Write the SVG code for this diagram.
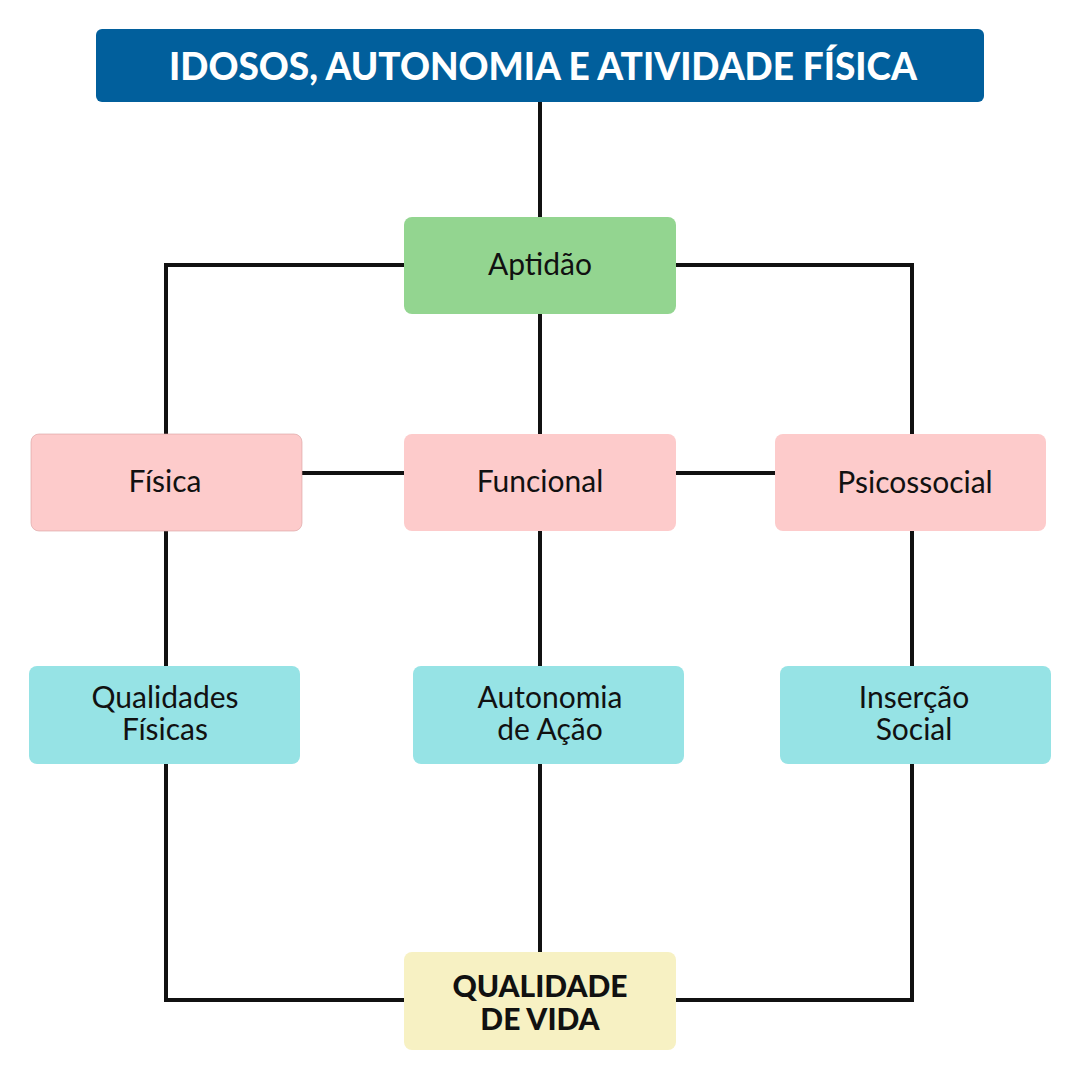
<svg xmlns="http://www.w3.org/2000/svg" width="1080" height="1080" viewBox="0 0 1080 1080">
<style>
.t{font-family:Lato,"Liberation Sans",sans-serif;font-size:30px;fill:#111;text-anchor:middle}
.b{font-weight:900}
.c{fill:none;stroke:#111;stroke-width:4}
</style>
<rect width="1080" height="1080" fill="#fff"/>
<g id="connectors">
<path class="c" d="M540 102V217M540 314V434M540 531V952"/>
<path class="c" d="M404 265H166V434M166 531V666M166 764V1000H404"/>
<path class="c" d="M676 265H912V434M912 531V666M912 764V1000H676"/>
<path class="c" d="M302 473H404M676 473H775"/>
</g>
<g id="title"><rect x="96" y="29" width="888" height="73" rx="6" fill="#015f9c"/><text class="t b" x="543" y="80" style="font-size:37px;fill:#fff">IDOSOS, AUTONOMIA E ATIVIDADE FÍSICA</text></g>
<g id="aptidao"><rect x="404" y="217" width="272" height="97" rx="8" fill="#93d590"/><text class="t" x="540" y="275">Aptidão</text></g>
<g id="fisica"><rect x="31" y="434" width="271" height="97" rx="8" fill="#fdcbcb" stroke="#d9a0a0" stroke-width="0.6"/><text class="t" x="165" y="492">Física</text></g>
<g id="funcional"><rect x="404" y="434" width="272" height="97" rx="8" fill="#fdcbcb"/><text class="t" x="540" y="492">Funcional</text></g>
<g id="psicossocial"><rect x="775" y="434" width="271" height="97" rx="8" fill="#fdcbcb"/><text class="t" x="915" y="493">Psicossocial</text></g>
<g id="qualidades"><rect x="29" y="666" width="271" height="98" rx="8" fill="#96e3e5"/><text class="t" x="165" y="708">Qualidades</text><text class="t" x="165" y="740">Físicas</text></g>
<g id="autonomia"><rect x="413" y="666" width="271" height="98" rx="8" fill="#96e3e5"/><text class="t" x="550" y="708">Autonomia</text><text class="t" x="550" y="740">de Ação</text></g>
<g id="insercao"><rect x="780" y="666" width="271" height="98" rx="8" fill="#96e3e5"/><text class="t" x="914" y="708">Inserção</text><text class="t" x="914" y="740">Social</text></g>
<g id="qualidade-vida"><rect x="404" y="952" width="272" height="98" rx="8" fill="#f7f1c3"/><text class="t b" x="540" y="997">QUALIDADE</text><text class="t b" x="540" y="1030">DE VIDA</text></g>
</svg>
